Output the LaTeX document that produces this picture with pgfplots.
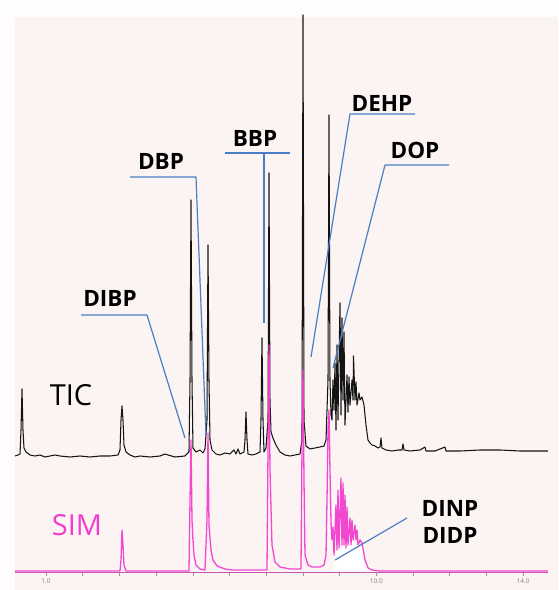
\documentclass[border=0pt]{standalone}
\usepackage{fontspec}
\setmainfont{Open Sans}
\usepackage{pgfplots}
\pgfplotsset{compat=1.18}
\definecolor{bgpink}{HTML}{FBF4F3}
\definecolor{bgwhite}{HTML}{FEFCFC}
\definecolor{simc}{HTML}{F23ED0}
\definecolor{lbl}{HTML}{4A7EC4}
\definecolor{ticc}{HTML}{141414}
\begin{document}
\begin{tikzpicture}
\begin{axis}[
  scale only axis, width=558pt, height=590pt,
  xmin=-0.2534, xmax=14.951, ymin=0, ymax=590,
  axis lines=none, clip=true,
  line join=round,
]
% background
\fill[bgwhite] (axis cs:-0.2534,0) rectangle (axis cs:14.951,590);
\fill[bgpink] (axis cs:0.155,0) rectangle (axis cs:14.951,573);

% TIC trace
\addplot[ticc, line width=1.05pt] coordinates {
(0.155,134) (0.237,135) (0.292,136) (0.319,160) (0.346,201) (0.373,160) (0.400,142) (0.455,138) (0.564,135) (0.700,134) (0.836,135) (0.973,133) (1.109,134) (1.245,135) (1.381,134) (1.654,133) (1.926,134) (2.199,133) (2.471,134) (2.744,134) (2.962,135) (3.016,140) (3.044,170) (3.071,184) (3.098,170) (3.125,145) (3.180,138) (3.289,135) (3.425,133) (3.561,134) (3.834,133) (4.106,134) (4.243,136) (4.324,135) (4.515,133) (4.787,134) (4.896,138) (4.924,210) (4.951,390) (4.978,210) (5.005,142) (5.087,138) (5.196,140) (5.278,137) (5.332,141) (5.387,170) (5.414,345) (5.441,210) (5.469,150) (5.523,140) (5.632,136) (5.741,135) (5.877,137) (6.013,136) (6.122,140) (6.177,136) (6.231,141) (6.286,136) (6.395,138) (6.422,150) (6.449,178) (6.477,150) (6.504,136) (6.613,135) (6.722,136) (6.831,138) (6.858,170) (6.885,252) (6.913,170) (6.940,138) (6.994,142) (7.049,170) (7.076,417) (7.103,190) (7.131,158) (7.185,152) (7.267,145) (7.376,138) (7.512,135) (7.648,134) (7.785,135) (7.921,136) (7.975,150) (8.003,575) (8.030,170) (8.084,144) (8.193,141) (8.330,142) (8.466,143) (8.575,144) (8.630,150) (8.684,210) (8.711,475) (8.738,210) (8.766,175) (8.793,170) (8.820,210) (8.847,180) (8.875,227) (8.902,160) (8.929,245) (8.956,170) (9.011,287) (9.038,175) (9.065,272) (9.093,190) (9.120,258) (9.147,165) (9.202,215) (9.229,178) (9.256,213) (9.283,185) (9.338,210) (9.365,190) (9.379,234) (9.420,190) (9.447,208) (9.474,185) (9.529,197) (9.556,190) (9.610,193) (9.665,185) (9.719,165) (9.774,150) (9.828,147) (9.883,145) (9.965,144) (10.046,142) (10.101,143) (10.128,152) (10.155,142) (10.264,140) (10.428,139) (10.591,140) (10.700,140) (10.728,146) (10.755,140) (10.918,139) (11.191,140) (11.327,143) (11.354,139) (11.599,139) (11.872,143) (11.899,139) (12.281,139) (12.826,140) (13.371,140) (13.915,139) (14.460,139) (14.678,139)
};

% white area under DINP/DIDP cluster
\addplot[fill=white, draw=none] coordinates {
(8.820,19) (8.847,32) (8.929,38) (9.065,42) (9.229,44) (9.365,48) (9.502,44) (9.610,45) (9.692,30) (9.774,22) (9.883,19)
} -- cycle;

% axis base line and ticks
\addplot[gray!70!black, line width=1pt] coordinates {(4.90,17) (10.30,17)};
\addplot[simc!60!gray, line width=0.8pt] coordinates {(0.155,17.5) (14.678,17.5)};
\pgfplotsinvokeforeach{1,...,14}{\draw[gray!80, line width=0.5pt] (axis cs:#1,16.5) -- (axis cs:#1,13.5);}

% SIM trace
\addplot[simc, line width=1.3pt, opacity=0.95] coordinates {
(0.155,19) (2.471,19) (3.016,19) (3.044,30) (3.071,60) (3.098,45) (3.125,25) (3.180,19) (4.896,19) (4.924,90) (4.951,150) (4.978,70) (5.005,50) (5.033,35) (5.087,25) (5.196,21) (5.332,20) (5.387,70) (5.414,157) (5.441,65) (5.496,40) (5.550,30) (5.659,24) (5.877,21) (6.068,20) (7.022,20) (7.049,140) (7.076,245) (7.103,120) (7.158,45) (7.240,28) (7.376,23) (7.648,21) (7.948,21) (7.975,140) (8.003,220) (8.030,110) (8.057,35) (8.139,25) (8.248,23) (8.466,23) (8.575,25) (8.630,35) (8.657,90) (8.684,160) (8.711,180) (8.738,120) (8.766,68) (8.793,50) (8.820,63) (8.847,35) (8.902,85) (8.929,40) (8.956,100) (8.984,42) (9.038,112) (9.065,45) (9.093,107) (9.120,45) (9.147,95) (9.174,42) (9.202,83) (9.229,45) (9.283,72) (9.311,45) (9.338,70) (9.365,50) (9.420,65) (9.447,50) (9.474,60) (9.502,45) (9.556,50) (9.610,47) (9.692,30) (9.774,22) (9.883,20) (10.101,19) (14.678,19)
};

% tick labels
\node[gray, font=\fontsize{6.5}{7}\selectfont] at (axis cs:1,9) {1.0};
\node[gray, font=\fontsize{6.5}{7}\selectfont] at (axis cs:10,9) {10.0};
\node[gray, font=\fontsize{6.5}{7}\selectfont] at (axis cs:14,9) {14.0};

% annotation lines
\draw[lbl, line width=1.2pt] (axis cs:1.954,275) -- (axis cs:3.752,275) -- (axis cs:4.787,152);
\draw[lbl, line width=1.2pt] (axis cs:3.289,413) -- (axis cs:5.087,413) -- (axis cs:5.360,155);
\draw[lbl, line width=1.2pt] (axis cs:5.877,437) -- (axis cs:7.648,437);
\draw[lbl, line width=1.2pt] (axis cs:6.940,437) -- (axis cs:6.940,267);
\draw[lbl, line width=1.2pt] (axis cs:11.055,476) -- (axis cs:9.283,476) -- (axis cs:8.221,233);
\draw[lbl, line width=1.2pt] (axis cs:11.981,425) -- (axis cs:10.237,425) -- (axis cs:8.820,222);
\draw[lbl, line width=1.2pt] (axis cs:8.875,30) -- (axis cs:10.837,72);

% labels
\node[font=\bfseries\fontsize{22.5}{25}\selectfont] at (axis cs:2.744,292) {DIBP};
\node[font=\bfseries\fontsize{22.5}{25}\selectfont] at (axis cs:4.134,429) {DBP};
\node[font=\bfseries\fontsize{22.5}{25}\selectfont] at (axis cs:6.695,452) {BBP};
\node[font=\bfseries\fontsize{22.5}{25}\selectfont] at (axis cs:10.155,487) {DEHP};
\node[font=\bfseries\fontsize{22.5}{25}\selectfont] at (axis cs:11.055,440) {DOP};
\node[font=\bfseries\fontsize{22.5}{25}\selectfont] at (axis cs:12.008,82) {DINP};
\node[font=\bfseries\fontsize{22.5}{25}\selectfont] at (axis cs:12.008,55) {DIDP};
\node[font=\fontsize{29}{32}\selectfont] at (axis cs:1.681,195) {TIC};
\node[simc, font=\fontsize{29}{32}\selectfont] at (axis cs:1.845,65) {SIM};
\end{axis}
\end{tikzpicture}
\end{document}
